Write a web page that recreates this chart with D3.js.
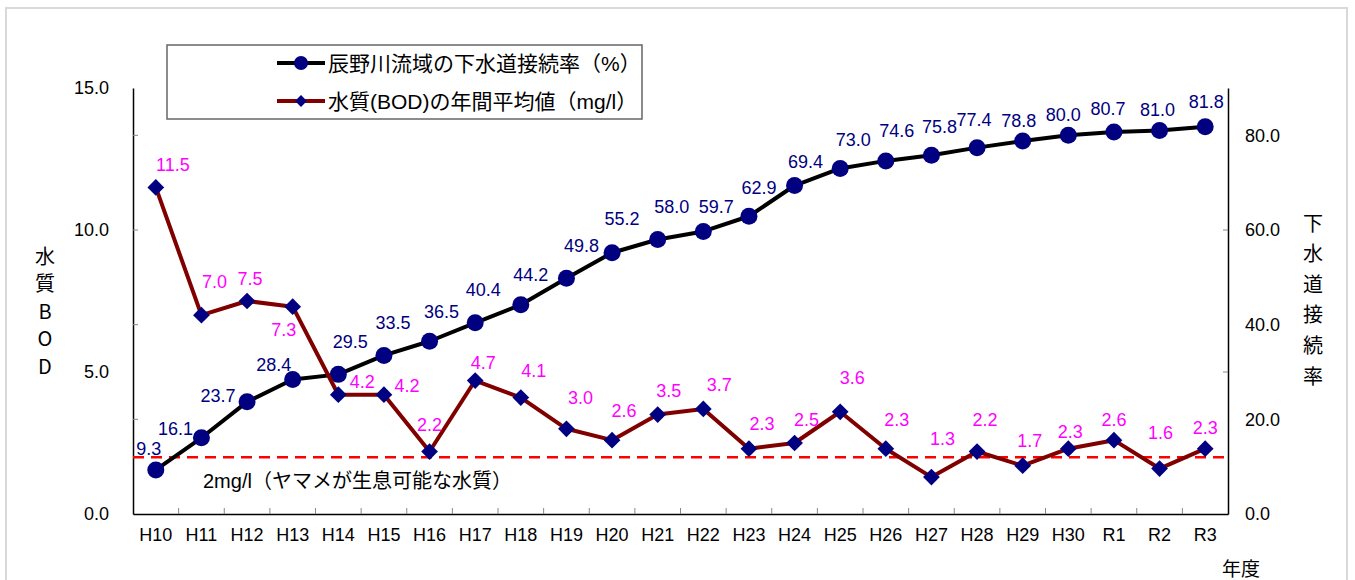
<!DOCTYPE html>
<html><head><meta charset="utf-8">
<script src="https://cdn.jsdelivr.net/npm/d3@7"></script>
<style>
html,body{margin:0;padding:0;background:#fff;}
svg{display:block;}
</style></head>
<body>
<svg id="chart" width="1355" height="580"></svg>
<script>
// ---- data ----
const categories = ["H10","H11","H12","H13","H14","H15","H16","H17","H18","H19","H20","H21","H22","H23","H24","H25","H26","H27","H28","H29","H30","R1","R2","R3"];
const connectionRate = [9.3,16.1,23.7,28.4,29.5,33.5,36.5,40.4,44.2,49.8,55.2,58.0,59.7,62.9,69.4,73.0,74.6,75.8,77.4,78.8,80.0,80.7,81.0,81.8];
const bodValues = [11.5,7.0,7.5,7.3,4.2,4.2,2.2,4.7,4.1,3.0,2.6,3.5,3.7,2.3,2.5,3.6,2.3,1.3,2.2,1.7,2.3,2.6,1.6,2.3];
const leftTicks = [0,5,10,15];
const rightTicks = [0,20,40,60,80];
const thresholdBOD = 2;
const seriesNames = ["辰野川流域の下水道接続率（%）","水質(BOD)の年間平均値（mg/l）"];
const thresholdLabel = "2mg/l（ヤマメが生息可能な水質）";
const leftTitle = "水質BOD";
const rightTitle = "下水道接続率";
const xTitle = "年度";

// label nudges (layout only): [dx, dy] relative to the point
const rateLabelNudge = [[-7,-21],[-26,-9],[-29,-6],[-19,-15],[12,-32],[9,-32],[12,-29],[8,-33],[10,-30],[15,-32],[10,-34],[14,-32],[13,-24],[10,-28],[11,-24],[13,-28],[11,-30],[8,-28],[-3,-28],[-4,-20],[-5,-20],[-6,-23],[-2,-21],[1,-25]];
const bodLabelNudge = [[17,-22],[13,-33],[3,-22],[-9,23],[24,-13],[23,-9],[0,-27],[8,-18],[13,-27],[14,-31],[12,-29],[11,-24],[16,-24],[13,-25],[12,-23],[12,-34],[11,-29],[11,-38],[8,-32],[7,-25],[2,-17],[0,-20],[1,-36],[0,-21]];

// ---- layout ----
const svg = d3.select("#chart");
const L = 133, R = 1228, T = 88, B = 514;
const latin = "'Liberation Sans', Arial, 'Noto Sans CJK JP', sans-serif";

svg.append("rect").attr("x",6).attr("y",8).attr("width",1341).attr("height",590)
  .attr("fill","#fff").attr("stroke","#d9d9d9").attr("stroke-width",2);

const x = d3.scaleBand().domain(categories).range([L,R]).padding(0);
const cx = d => x(d) + x.bandwidth()/2;
const yL = d3.scaleLinear().domain([0,15]).range([B,T]);
const yR = d3.scaleLinear().domain([0,90]).range([B,T]);

// left axis
const gL = svg.append("g").attr("transform",`translate(${L},0)`)
  .call(d3.axisLeft(yL).tickValues(leftTicks).tickFormat(d3.format(".1f")).tickSize(0).tickPadding(24));
gL.select(".domain").attr("stroke","#000").attr("stroke-width",1.5);
gL.selectAll("text").attr("font-family",latin).attr("font-size",18).attr("fill","#000");
// inner ticks on left axis (as in original)
svg.append("g").selectAll("line").data(rightTicks.filter(d=>d>0)).join("line")
  .attr("x1",L).attr("x2",L+5).attr("y1",d=>yR(d)).attr("y2",d=>yR(d))
  .attr("stroke","#888").attr("stroke-width",1);

// right axis
const gR = svg.append("g").attr("transform",`translate(${R},0)`)
  .call(d3.axisRight(yR).tickValues(rightTicks).tickFormat(d3.format(".1f")).tickSize(0).tickPadding(17));
gR.select(".domain").attr("stroke","#000").attr("stroke-width",1.5);
gR.selectAll("text").attr("font-family",latin).attr("font-size",18).attr("fill","#000");
svg.append("g").selectAll("line").data(leftTicks.filter(d=>d>0&&d<15)).join("line")
  .attr("x1",R-5).attr("x2",R).attr("y1",d=>yL(d)).attr("y2",d=>yL(d))
  .attr("stroke","#888").attr("stroke-width",1);

// bottom axis
const gB = svg.append("g").attr("transform",`translate(0,${B})`)
  .call(d3.axisBottom(x).tickSize(0).tickPadding(14));
gB.select(".domain").attr("stroke","#000").attr("stroke-width",1.5);
gB.selectAll("text").attr("font-family",latin).attr("font-size",18).attr("fill","#000");
svg.append("g").selectAll("line").data(categories.slice(1)).join("line")
  .attr("x1",d=>x(d)).attr("x2",d=>x(d)).attr("y1",B).attr("y2",B-6)
  .attr("stroke","#888").attr("stroke-width",1);

// axis titles
svg.append("g").selectAll("text").data(Array.from(leftTitle)).join("text")
  .attr("x",45).attr("y",(d,i)=>255 + i*27.5).attr("text-anchor","middle").attr("dominant-baseline","central")
  .attr("font-family","'Noto Sans CJK JP', sans-serif").attr("font-size",20).attr("fill","#000").text(d=>d);
svg.append("g").selectAll("text").data(Array.from(rightTitle)).join("text")
  .attr("x",1313).attr("y",(d,i)=>222 + i*30.6).attr("text-anchor","middle").attr("dominant-baseline","central")
  .attr("font-family","'Noto Sans CJK JP', sans-serif").attr("font-size",20).attr("fill","#000").text(d=>d);
svg.append("text").attr("x",1241).attr("y",567).attr("text-anchor","middle").attr("dominant-baseline","central")
  .attr("font-family","'Noto Sans CJK JP', sans-serif").attr("font-size",19).attr("fill","#000").text(xTitle);

// threshold line
svg.append("line").attr("x1",L).attr("x2",R).attr("y1",yL(thresholdBOD)).attr("y2",yL(thresholdBOD))
  .attr("stroke","#ff0000").attr("stroke-width",2.5).attr("stroke-dasharray","11,7");
svg.append("text").attr("x",203).attr("y",481).attr("dominant-baseline","central")
  .attr("font-family",latin).attr("font-size",20).attr("fill","#000").text(thresholdLabel);

// connection rate series
const lineR = d3.line().x((d,i)=>cx(categories[i])).y(d=>yR(d));
svg.append("path").datum(connectionRate).attr("d",lineR).attr("fill","none")
  .attr("stroke","#000").attr("stroke-width",4).attr("stroke-linejoin","round");
svg.append("g").selectAll("circle").data(connectionRate).join("circle")
  .attr("cx",(d,i)=>cx(categories[i])).attr("cy",d=>yR(d)).attr("r",8.5).attr("fill","#000080");

// BOD series
const lineB = d3.line().x((d,i)=>cx(categories[i])).y(d=>yL(d));
svg.append("path").datum(bodValues).attr("d",lineB).attr("fill","none")
  .attr("stroke","#800000").attr("stroke-width",4).attr("stroke-linejoin","round");
const diamond = d3.symbol().type(d3.symbolSquare).size(140);
svg.append("g").selectAll("path").data(bodValues).join("path")
  .attr("d",diamond)
  .attr("transform",(d,i)=>`translate(${cx(categories[i])},${yL(d)}) rotate(45)`)
  .attr("fill","#000080");

// data labels
svg.append("g").selectAll("text").data(connectionRate).join("text")
  .attr("x",(d,i)=>cx(categories[i]) + rateLabelNudge[i][0])
  .attr("y",(d,i)=>yR(d) + rateLabelNudge[i][1])
  .attr("text-anchor","middle").attr("dominant-baseline","central")
  .attr("font-family",latin).attr("font-size",18).attr("fill","#000080")
  .text(d=>d.toFixed(1));
svg.append("g").selectAll("text").data(bodValues).join("text")
  .attr("x",(d,i)=>cx(categories[i]) + bodLabelNudge[i][0])
  .attr("y",(d,i)=>yL(d) + bodLabelNudge[i][1])
  .attr("text-anchor","middle").attr("dominant-baseline","central")
  .attr("font-family",latin).attr("font-size",18).attr("fill","#ff00ff")
  .text(d=>d.toFixed(1));

// legend
const lg = svg.append("g");
lg.append("rect").attr("x",167).attr("y",45).attr("width",475).attr("height",74)
  .attr("fill","#fff").attr("stroke","#666").attr("stroke-width",1.5);
const legendItems = [
  {name:seriesNames[0], stroke:"#000", marker:"circle", y:63},
  {name:seriesNames[1], stroke:"#800000", marker:"diamond", y:101}
];
legendItems.forEach(it=>{
  lg.append("line").attr("x1",277).attr("x2",325).attr("y1",it.y).attr("y2",it.y)
    .attr("stroke",it.stroke).attr("stroke-width",4);
  if(it.marker==="circle"){
    lg.append("circle").attr("cx",301).attr("cy",it.y).attr("r",7).attr("fill","#000080");
  } else {
    lg.append("path").attr("d",d3.symbol().type(d3.symbolSquare).size(70))
      .attr("transform",`translate(301,${it.y}) rotate(45)`).attr("fill","#000080");
  }
  lg.append("text").attr("x",328).attr("y",it.y).attr("dominant-baseline","central")
    .attr("font-family",latin).attr("font-size",21).attr("fill","#000").text(it.name);
});
</script>
</body></html>
